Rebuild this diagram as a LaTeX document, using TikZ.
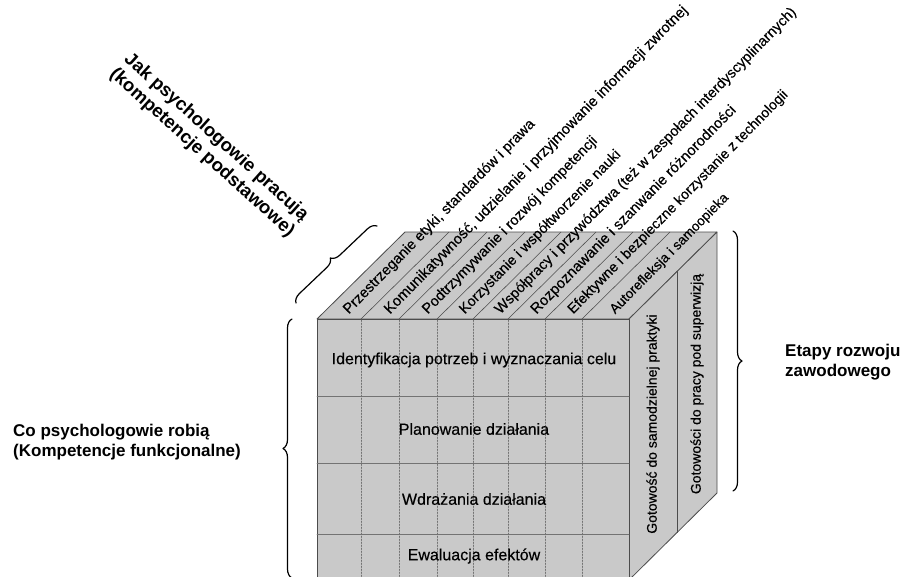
\documentclass[tikz,border=0pt]{standalone}
\usepackage{fontspec}
\setmainfont{Liberation Sans}
\newfontfamily\cubefont[FakeBold=0.35]{Liberation Sans}
\usetikzlibrary{decorations.pathreplacing}

\tikzset{
  face/.style={fill=black!21, draw=black!70, line width=0.8pt},
  rowline/.style={draw=black!55, line width=0.6pt},
  colline/.style={draw=black!70, line width=0.55pt},
  dashline/.style={draw=black!55, line width=0.6pt, dash pattern=on 1.5pt off 1.5pt},
  rowtext/.style={font=\cubefont\fontsize{16}{19}\selectfont, inner sep=0pt},
  toptext/.style={rotate=45.5, anchor=west, inner sep=0pt},
  sidetext/.style={font=\cubefont\fontsize{14}{16}\selectfont, rotate=90, inner sep=0pt},
  bigtext/.style={font=\bfseries\fontsize{17}{20.5}\selectfont, inner sep=0pt},
  bracket/.style={decorate, decoration={brace, amplitude=9pt}, line width=1.2pt},
}

\begin{document}
\begin{tikzpicture}[x=1pt,y=-1pt,line cap=round,line join=round]
	\useasboundingbox (0,0) rectangle (905,576);
	% corners of the cube
	\coordinate (ftl) at (317,319);
	\coordinate (ftr) at (629,319);
	\coordinate (btl) at (405,232);
	\coordinate (btr) at (717,232);
	\coordinate (bbr) at (717,493);
	\coordinate (fbr) at (629,580);
	\coordinate (fbl) at (317,580);
	% faces
	\draw[face] (ftl) -- (btl) -- (btr) -- (ftr) -- cycle;
	\draw[face] (ftr) -- (btr) -- (bbr) -- (fbr) -- cycle;
	\draw[face] (ftl) -- (ftr) -- (fbr) -- (fbl) -- cycle;
	% columns and rows
	\foreach \x in {361,399,437,473,508,545,582}{
		\draw[colline] (\x,319) -- ++(88,-87);
		\draw[dashline] (\x,320) -- (\x,580);
	}
	\foreach \y in {396,463,534}
		\draw[rowline] (317,\y) -- (629,\y);
	\draw[colline] (677,271.5) -- (677,532.5);
	% front face
	\node[rowtext] (identyfikacja) at (474,360) {Identyfikacja potrzeb i wyznaczania celu};
	\node[rowtext] (planowanie) at (474,429) {Planowanie działania};
	\node[rowtext] (wdrazanie) at (474,499) {Wdrażania działania};
	\node[rowtext] (ewaluacja) at (474,556) {Ewaluacja efektów};
	% top face
	\foreach \cx/\fs/\txt [count=\i] in {339/14.6/{Przestrzeganie etyki, standardów i prawa},
		380/14.9/{Komunikatywność, udzielanie i przyjmowanie informacji zwrotnej},
		418/14.6/{Podtrzymywanie i rozwój kompetencji},
		455/14.4/{Korzystanie i współtworzenie nauki},
		490.5/14.5/{Współpracy i przywództwa (też w zespołach interdyscyplinarnych)},
		526.5/14.9/{Rozpoznawanie i szanwanie różnorodności},
		563.5/14.2/{Efektywne i bezpieczne korzystanie z technologii},
		605.5/13.6/{Autorefleksja i samoopieka}}
		\node[toptext, font=\cubefont\fontsize{\fs}{16}\selectfont] (top\i) at (\cx+7,312) {\txt};
	% right face
	\node[sidetext] (samodzielna) at (653,424) {Gotowość do samodzielnej praktyki};
	\node[sidetext] (superwizja) at (697,384) {Gotowości do pracy pod superwizją};
	% braces and labels
	\draw[bracket] (292,578) -- (292,319);
	\draw[bracket] (733,231) -- (733,491);
	\draw[bracket] (296,303) -- (377,226);
	\node[bigtext, anchor=west, align=left] (co) at (13,442) {Co psychologowie robią\\(Kompetencje funkcjonalne)};
	\node[bigtext, anchor=west, align=left] (etapy) at (785,362) {Etapy rozwoju\\zawodowego};
	\node[bigtext, font=\bfseries\fontsize{18.5}{21}\selectfont, align=center, rotate=-42] (jak) at (209,145) {Jak psychologowie pracują\\(kompetencje podstawowe)};
\end{tikzpicture}
\end{document}
